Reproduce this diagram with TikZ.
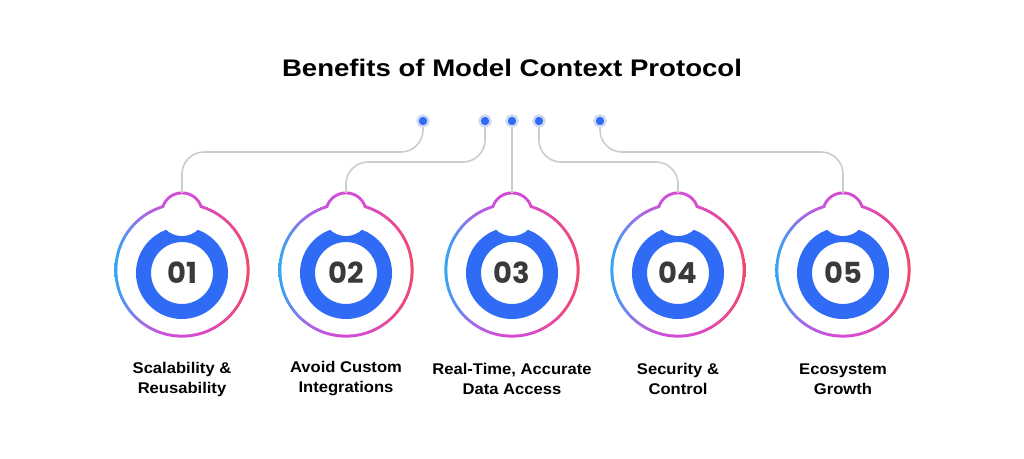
\documentclass[tikz,border=0pt]{standalone}
\usepackage{fontspec}
\setmainfont{Liberation Sans}
\newfontfamily\titlefont[FakeStretch=1.15]{Liberation Sans}
\newfontfamily\labelfont[FakeStretch=1.07]{Liberation Sans}
\newfontfamily\numfont{Poppins}
\definecolor{ringblue}{HTML}{30A6F5}
\definecolor{ringpurple}{HTML}{A866E6}
\definecolor{ringmid}{HTML}{D44CD6}
\definecolor{ringred}{HTML}{F2476C}
\definecolor{mainblue}{HTML}{2F6BF5}
\definecolor{linegray}{HTML}{CCCCCC}
\definecolor{halo}{HTML}{CFDAF2}
\definecolor{numgray}{HTML}{3A3A3A}
\pgfdeclarehorizontalshading{ringshade}{100bp}{color(0bp)=(ringblue); color(25bp)=(ringblue); color(36bp)=(ringpurple); color(46bp)=(ringmid); color(54bp)=(ringmid); color(75bp)=(ringred); color(100bp)=(ringred)}
\tikzset{
  conn/.style={draw=linegray, line width=1.6pt, rounded corners=22pt},
  dotcore/.style={circle, fill=mainblue, draw=halo, line width=2.2pt, inner sep=0pt, minimum size=11pt},
  numtext/.style={font=\numfont\bfseries\fontsize{29}{30}\selectfont, text=numgray},
  labeltext/.style={font=\labelfont\bfseries\fontsize{15.5}{20}\selectfont, align=center, text=black},
  ringfill/.style={shading=ringshade},
}
\begin{document}
\begin{tikzpicture}[x=1pt,y=-1pt]
\useasboundingbox (0,0) rectangle (1024,458);
\fill[white] (0,0) rectangle (1024,458);
\node[font=\titlefont\bfseries\fontsize{24}{28}\selectfont] (title) at (512,68) {Benefits of Model Context Protocol};
% badges
\foreach \i/\x/\la/\lb in {1/182/Scalability \&/Reusability, 2/346/Avoid Custom/Integrations, 3/512/{Real-Time, Accurate}/Data Access, 4/678/Security \&/Control, 5/843/Ecosystem/Growth}{
  \coordinate (c\i) at (\x,270);
  \coordinate (b\i) at (\x,213);
  \coordinate (t\i) at (\x,193);
  \coordinate (m\i) at (\x,273);
  \shade[ringfill]
     (c\i) circle[radius=67.6] (b\i) circle[radius=21.6];
  \fill[white] (c\i) circle[radius=64.6] (b\i) circle[radius=18.6];
  \fill[mainblue, even odd rule] (m\i) circle[radius=46] (m\i) circle[radius=31];
  \begin{scope}
    \clip (m\i) circle[radius=50];
    \fill[white] (b\i) circle[radius=23];
  \end{scope}
  \node[numtext] (n\i) at (m\i) {0\i};
  \node[labeltext] (l\i) at (\x,379) {\la\\\lb};
}
% connectors
\coordinate (k1) at (182,152);
\coordinate (k2) at (346,162);
\coordinate (k4) at (678,162);
\coordinate (k5) at (843,152);
\node[dotcore] (d1) at (423,121) {};
\node[dotcore] (d2) at (485,121) {};
\node[dotcore] (d3) at (512,121) {};
\node[dotcore] (d4) at (539,121) {};
\node[dotcore] (d5) at (600,121) {};
\draw[conn] (d1.center) |- (k1) -- (t1);
\draw[conn] (d2.center) |- (k2) -- (t2);
\draw[conn] (d3.center) -- (t3);
\draw[conn] (d4.center) |- (k4) -- (t4);
\draw[conn] (d5.center) |- (k5) -- (t5);
\foreach \i in {1,...,5}{
  \node[dotcore] at (d\i) {};
}
\end{tikzpicture}
\end{document}
